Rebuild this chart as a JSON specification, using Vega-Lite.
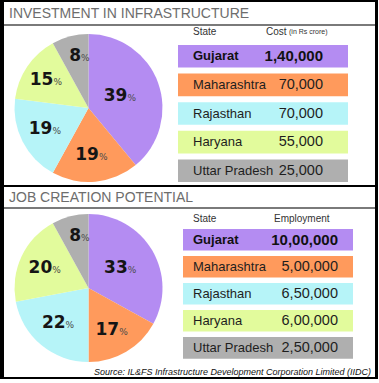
{
  "$schema": "https://vega.github.io/schema/vega-lite/v6.json",
  "background": "#000000",
  "padding": {"left": 3, "top": 2, "right": 2, "bottom": 2},
  "spacing": 2,
  "config": {
    "view": {"stroke": null, "fill": "#ffffff"},
    "locale": {"number": {"decimal": ".", "thousands": ",", "grouping": [3, 2], "currency": ["₹", ""]}},
    "text": {"font": "Liberation Sans"}
  },
  "datasets": {
    "invest": [
      {"state": "Gujarat", "cost": 140000, "pct": 39, "rank": 1},
      {"state": "Maharashtra", "cost": 70000, "pct": 19, "rank": 2},
      {"state": "Rajasthan", "cost": 70000, "pct": 19, "rank": 3},
      {"state": "Haryana", "cost": 55000, "pct": 15, "rank": 4},
      {"state": "Uttar Pradesh", "cost": 25000, "pct": 8, "rank": 5}
    ],
    "jobs": [
      {"state": "Gujarat", "jobs": 1000000, "pct": 33, "rank": 1},
      {"state": "Maharashtra", "jobs": 500000, "pct": 17, "rank": 2},
      {"state": "Rajasthan", "jobs": 650000, "pct": 22, "rank": 3},
      {"state": "Haryana", "jobs": 600000, "pct": 20, "rank": 4},
      {"state": "Uttar Pradesh", "jobs": 250000, "pct": 8, "rank": 5}
    ]
  },
  "vconcat": [
    {
      "vconcat": [
        {
          "width": 371, "height": 24,
          "view": {"fill": "#ffffff", "stroke": null},
          "data": {"values": [{}]},
          "layer": [
            {"mark": {"type": "text", "align": "left", "dx": 5, "dy": 0, "fontSize": 14, "fill": "#6d6d6d"},
             "encoding": {"x": {"datum": "L", "type": "nominal", "bandPosition": 0, "scale": {"type": "band", "domain": ["L"], "paddingInner": 0, "paddingOuter": 0}, "axis": null}, "text": {"value": "INVESTMENT IN INFRASTRUCTURE"}}},
            {"mark": {"type": "rule", "color": "#7a7a7a", "strokeWidth": 2},
             "encoding": {"y": {"datum": "L", "type": "nominal", "bandPosition": 0.9583, "scale": {"type": "band", "domain": ["L"], "paddingInner": 0, "paddingOuter": 0}, "axis": null}}}
          ]
        },
        {
          "hconcat": [
            {"vconcat": [
              {"width": 169, "height": 5, "view": {"fill": "#ffffff", "stroke": null}, "data": {"values": [{}]}, "mark": {"type": "text", "text": "", "fontSize": 0}},
              {
                "width": 169, "height": 154,
                "view": {"fill": "#ffffff", "stroke": null},
                "data": {"name": "invest"},
                "encoding": {
                  "theta": {"field": "pct", "type": "quantitative", "stack": true},
                  "order": {"field": "rank", "type": "quantitative"}
                },
                "layer": [
                  {"mark": {"type": "arc", "outerRadius": 74},
                   "encoding": {"color": {"field": "state", "type": "nominal", "legend": null, "scale": {"domain": ["Gujarat", "Maharashtra", "Rajasthan", "Haryana", "Uttar Pradesh"], "range": ["#b48cf2", "#ff9a5c", "#b6f4f8", "#e2fb9c", "#afafaf"]}}}},
                  {"mark": {"type": "text", "align": "right", "dx": 6, "font": "DejaVu Sans", "fontWeight": "bold", "fontSize": 17, "fill": "#151515"},
                   "encoding": {"text": {"field": "pct", "type": "quantitative"}, "radius": {"field": "pct", "type": "quantitative", "scale": {"type": "linear", "domain": [8, 39], "range": [54, 35], "zero": false}}}},
                  {"mark": {"type": "text", "align": "left", "dx": 6, "dy": 2, "font": "DejaVu Sans", "fontSize": 9, "fill": "#4a4a4a"},
                   "encoding": {"text": {"value": "%"}, "radius": {"field": "pct", "type": "quantitative", "scale": {"type": "linear", "domain": [8, 39], "range": [54, 35], "zero": false}}}}
                ]
              }
            ], "spacing": 0},
            {"width": 5, "height": 159, "view": {"fill": "#ffffff", "stroke": null}, "data": {"values": [{}]}, "mark": {"type": "text", "text": "", "fontSize": 0}},
            {"vconcat": [
              {
                "width": 170, "height": 12,
                "data": {"values": [{}]},
                "layer": [
                  {"mark": {"type": "text", "align": "left", "dx": 15, "fontSize": 10, "fill": "#333333"},
                   "encoding": {"x": {"datum": "State", "type": "nominal", "bandPosition": 0, "scale": {"type": "band", "domain": ["State", "Value"], "paddingInner": 0, "paddingOuter": 0}, "axis": null}, "text": {"value": "State"}}},
                  {"mark": {"type": "text", "align": "left", "dx": 3, "fontSize": 10, "fill": "#333333"},
                   "encoding": {"x": {"datum": "Value", "type": "nominal", "bandPosition": 0, "scale": {"type": "band", "domain": ["State", "Value"], "paddingInner": 0, "paddingOuter": 0}, "axis": null}, "text": {"value": "Cost"}}},
                  {"mark": {"type": "text", "align": "left", "dx": 26, "fontSize": 7, "fill": "#333333"},
                   "encoding": {"x": {"datum": "Value", "type": "nominal", "bandPosition": 0, "scale": {"type": "band", "domain": ["State", "Value"], "paddingInner": 0, "paddingOuter": 0}, "axis": null}, "text": {"value": "(in Rs crore)"}}}
                ]
              },
              {
                "width": 170, "height": 147,
                "data": {"name": "invest"},
                "encoding": {"y": {"field": "state", "type": "nominal", "sort": null, "axis": null, "scale": {"domain": ["Gujarat", "Maharashtra", "Rajasthan", "Haryana", "Uttar Pradesh"], "paddingInner": 0.21, "paddingOuter": 0.175, "align": 0.7}}},
                "layer": [
                  {"mark": {"type": "bar"},
                   "encoding": {"color": {"field": "state", "type": "nominal", "legend": null, "scale": {"domain": ["Gujarat", "Maharashtra", "Rajasthan", "Haryana", "Uttar Pradesh"], "range": ["#b48cf2", "#ff9a5c", "#b6f4f8", "#e2fb9c", "#afafaf"]}}}},
                  {"transform": [{"filter": "datum.state !== 'Gujarat'"}],
                   "mark": {"type": "text", "align": "left", "dx": 15, "fontSize": 13, "fill": "#1e1e1e"},
                   "encoding": {"x": {"datum": "State", "type": "nominal", "bandPosition": 0, "scale": {"type": "band", "domain": ["State", "Value"], "paddingInner": 0, "paddingOuter": 0}, "axis": null}, "text": {"field": "state"}}},
                  {"transform": [{"filter": "datum.state === 'Gujarat'"}],
                   "mark": {"type": "text", "align": "left", "dx": 15, "fontSize": 13, "fontWeight": "bold", "fill": "#111111"},
                   "encoding": {"x": {"datum": "State", "type": "nominal", "bandPosition": 0, "scale": {"type": "band", "domain": ["State", "Value"], "paddingInner": 0, "paddingOuter": 0}, "axis": null}, "text": {"field": "state"}}},
                  {"transform": [{"filter": "datum.state !== 'Gujarat'"}],
                   "mark": {"type": "text", "align": "right", "dx": -25, "fontSize": 14.5, "fill": "#1e1e1e"},
                   "encoding": {"x": {"datum": "Value", "type": "nominal", "bandPosition": 1, "scale": {"type": "band", "domain": ["State", "Value"], "paddingInner": 0, "paddingOuter": 0}, "axis": null}, "text": {"field": "cost", "type": "quantitative", "format": ","}}},
                  {"transform": [{"filter": "datum.state === 'Gujarat'"}],
                   "mark": {"type": "text", "align": "right", "dx": -25, "fontSize": 15, "fontWeight": "bold", "fill": "#111111"},
                   "encoding": {"x": {"datum": "Value", "type": "nominal", "bandPosition": 1, "scale": {"type": "band", "domain": ["State", "Value"], "paddingInner": 0, "paddingOuter": 0}, "axis": null}, "text": {"field": "cost", "type": "quantitative", "format": ","}}}
                ]
              }
            ], "spacing": 0},
            {"width": 27, "height": 159, "view": {"fill": "#ffffff", "stroke": null}, "data": {"values": [{}]}, "mark": {"type": "text", "text": "", "fontSize": 0}}
          ],
          "spacing": 0
        }
      ],
      "spacing": 0
    },
    {
      "vconcat": [
        {
          "width": 371, "height": 22,
          "view": {"fill": "#ffffff", "stroke": null},
          "data": {"values": [{}]},
          "layer": [
            {"mark": {"type": "text", "align": "left", "dx": 5, "dy": 0, "fontSize": 14, "fill": "#6d6d6d"},
             "encoding": {"x": {"datum": "L", "type": "nominal", "bandPosition": 0, "scale": {"type": "band", "domain": ["L"], "paddingInner": 0, "paddingOuter": 0}, "axis": null}, "text": {"value": "JOB CREATION POTENTIAL"}}},
            {"mark": {"type": "rule", "color": "#7a7a7a", "strokeWidth": 2},
             "encoding": {"y": {"datum": "L", "type": "nominal", "bandPosition": 0.9545, "scale": {"type": "band", "domain": ["L"], "paddingInner": 0, "paddingOuter": 0}, "axis": null}}}
          ]
        },
        {
          "hconcat": [
            {
              "width": 169, "height": 158,
              "view": {"fill": "#ffffff", "stroke": null},
              "data": {"name": "jobs"},
              "encoding": {
                "theta": {"field": "pct", "type": "quantitative", "stack": true},
                "order": {"field": "rank", "type": "quantitative"}
              },
              "layer": [
                {"mark": {"type": "arc", "outerRadius": 74},
                 "encoding": {"color": {"field": "state", "type": "nominal", "legend": null, "scale": {"domain": ["Gujarat", "Maharashtra", "Rajasthan", "Haryana", "Uttar Pradesh"], "range": ["#b48cf2", "#ff9a5c", "#b6f4f8", "#e2fb9c", "#afafaf"]}}}},
                {"mark": {"type": "text", "align": "right", "dx": 6, "font": "DejaVu Sans", "fontWeight": "bold", "fontSize": 17, "fill": "#151515"},
                 "encoding": {"text": {"field": "pct", "type": "quantitative"}, "radius": {"field": "pct", "type": "quantitative", "scale": {"type": "linear", "domain": [8, 39], "range": [54, 35], "zero": false}}}},
                {"mark": {"type": "text", "align": "left", "dx": 6, "dy": 2, "font": "DejaVu Sans", "fontSize": 9, "fill": "#4a4a4a"},
                 "encoding": {"text": {"value": "%"}, "radius": {"field": "pct", "type": "quantitative", "scale": {"type": "linear", "domain": [8, 39], "range": [54, 35], "zero": false}}}}
              ]
            },
            {"width": 10, "height": 158, "view": {"fill": "#ffffff", "stroke": null}, "data": {"values": [{}]}, "mark": {"type": "text", "text": "", "fontSize": 0}},
            {"vconcat": [
              {
                "width": 170, "height": 20,
                "data": {"values": [{}]},
                "layer": [
                  {"mark": {"type": "text", "align": "left", "dx": 10, "fontSize": 10, "fill": "#333333"},
                   "encoding": {"x": {"datum": "State", "type": "nominal", "bandPosition": 0, "scale": {"type": "band", "domain": ["State", "Value"], "paddingInner": 0, "paddingOuter": 0}, "axis": null}, "text": {"value": "State"}}},
                  {"mark": {"type": "text", "align": "left", "dx": 6, "fontSize": 10, "fill": "#333333"},
                   "encoding": {"x": {"datum": "Value", "type": "nominal", "bandPosition": 0, "scale": {"type": "band", "domain": ["State", "Value"], "paddingInner": 0, "paddingOuter": 0}, "axis": null}, "text": {"value": "Employment"}}}
                ]
              },
              {
                "width": 170, "height": 138,
                "data": {"name": "jobs"},
                "encoding": {"y": {"field": "state", "type": "nominal", "sort": null, "axis": null, "scale": {"domain": ["Gujarat", "Maharashtra", "Rajasthan", "Haryana", "Uttar Pradesh"], "paddingInner": 0.2, "paddingOuter": 0.155, "align": 0}}},
                "layer": [
                  {"mark": {"type": "bar"},
                   "encoding": {"color": {"field": "state", "type": "nominal", "legend": null, "scale": {"domain": ["Gujarat", "Maharashtra", "Rajasthan", "Haryana", "Uttar Pradesh"], "range": ["#b48cf2", "#ff9a5c", "#b6f4f8", "#e2fb9c", "#afafaf"]}}}},
                  {"transform": [{"filter": "datum.state !== 'Gujarat'"}],
                   "mark": {"type": "text", "align": "left", "dx": 10, "fontSize": 13, "fill": "#1e1e1e"},
                   "encoding": {"x": {"datum": "State", "type": "nominal", "bandPosition": 0, "scale": {"type": "band", "domain": ["State", "Value"], "paddingInner": 0, "paddingOuter": 0}, "axis": null}, "text": {"field": "state"}}},
                  {"transform": [{"filter": "datum.state === 'Gujarat'"}],
                   "mark": {"type": "text", "align": "left", "dx": 10, "fontSize": 13, "fontWeight": "bold", "fill": "#111111"},
                   "encoding": {"x": {"datum": "State", "type": "nominal", "bandPosition": 0, "scale": {"type": "band", "domain": ["State", "Value"], "paddingInner": 0, "paddingOuter": 0}, "axis": null}, "text": {"field": "state"}}},
                  {"transform": [{"filter": "datum.state !== 'Gujarat'"}],
                   "mark": {"type": "text", "align": "right", "dx": -15, "fontSize": 14.5, "fill": "#1e1e1e"},
                   "encoding": {"x": {"datum": "Value", "type": "nominal", "bandPosition": 1, "scale": {"type": "band", "domain": ["State", "Value"], "paddingInner": 0, "paddingOuter": 0}, "axis": null}, "text": {"field": "jobs", "type": "quantitative", "format": ","}}},
                  {"transform": [{"filter": "datum.state === 'Gujarat'"}],
                   "mark": {"type": "text", "align": "right", "dx": -15, "fontSize": 15, "fontWeight": "bold", "fill": "#111111"},
                   "encoding": {"x": {"datum": "Value", "type": "nominal", "bandPosition": 1, "scale": {"type": "band", "domain": ["State", "Value"], "paddingInner": 0, "paddingOuter": 0}, "axis": null}, "text": {"field": "jobs", "type": "quantitative", "format": ","}}}
                ]
              }
            ], "spacing": 0},
            {"width": 22, "height": 158, "view": {"fill": "#ffffff", "stroke": null}, "data": {"values": [{}]}, "mark": {"type": "text", "text": "", "fontSize": 0}}
          ],
          "spacing": 0
        },
        {
          "width": 371, "height": 10,
          "view": {"fill": "#ffffff", "stroke": null},
          "data": {"values": [{}]},
          "mark": {"type": "text", "align": "right", "dx": -4, "fontSize": 9, "fontStyle": "italic", "fill": "#111111"},
          "encoding": {"x": {"datum": "L", "type": "nominal", "bandPosition": 1, "scale": {"type": "band", "domain": ["L"], "paddingInner": 0, "paddingOuter": 0}, "axis": null}, "text": {"value": "Source: IL&FS Infrastructure Development Corporation Limited (IIDC)"}}
        }
      ],
      "spacing": 0
    }
  ]
}
